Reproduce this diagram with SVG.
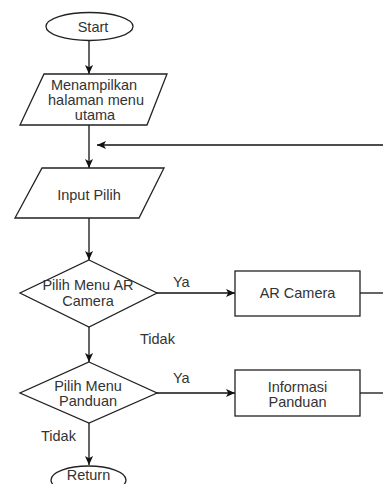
<svg xmlns="http://www.w3.org/2000/svg" width="383" height="484" viewBox="0 0 383 484">
<defs>
<marker id="arr" viewBox="0 0 10 10" refX="10" refY="5" markerWidth="9" markerHeight="9" markerUnits="userSpaceOnUse" orient="auto">
<path d="M0,0.5 L10,5 L0,9.5 L2.5,5 z" fill="#111"/>
</marker>
<style>
.s{fill:#fff;stroke:#222;stroke-width:1.3}
.c{fill:none;stroke:#111;stroke-width:1.3}
.a{marker-end:url(#arr)}
text{font-family:"Liberation Sans",Arial,sans-serif;font-size:14.5px;fill:#333}
.m{text-anchor:middle}
</style>
</defs>
<rect width="383" height="484" fill="#fff"/>
<g id="connectors">
<path class="c a" d="M89 41 V74"/>
<path class="c a" d="M89 125 V168"/>
<path class="c a" d="M383 145 H97"/>
<path class="c a" d="M89 218 V260"/>
<path class="c a" d="M156 293 H235"/>
<path class="c" d="M360 293 H383"/>
<path class="c a" d="M89 327 V362"/>
<path class="c a" d="M156 393 H235"/>
<path class="c" d="M360 393 H383"/>
<path class="c a" d="M89 423 V465"/>
<text x="173" y="287">Ya</text>
<text x="140" y="344">Tidak</text>
<text x="173" y="383">Ya</text>
<text x="41" y="441">Tidak</text>
</g>
<g id="start">
<ellipse class="s" cx="89.5" cy="26.5" rx="43.5" ry="14"/>
<text class="m" x="93" y="32">Start</text>
</g>
<g id="menu-utama">
<polygon class="s" points="44,74 167,74 147,125 20,125"/>
<text class="m" x="94" y="90">Menampilkan</text>
<text class="m" x="96" y="105">halaman menu</text>
<text class="m" x="95" y="120">utama</text>
</g>
<g id="input-pilih">
<polygon class="s" points="42,168 164,168 139,218 15,218"/>
<text class="m" x="89" y="200">Input Pilih</text>
</g>
<g id="pilih-ar">
<polygon class="s" points="89,260 157,293 89,327 20,293"/>
<text class="m" x="88" y="290">Pilih Menu AR</text>
<text class="m" x="88" y="306">Camera</text>
</g>
<g id="ar-camera">
<rect class="s" x="235" y="271" width="125" height="45"/>
<text class="m" x="297.5" y="298">AR Camera</text>
</g>
<g id="pilih-panduan">
<polygon class="s" points="89,362 157,393 89,423 20,393"/>
<text class="m" x="88" y="391">Pilih Menu</text>
<text class="m" x="88" y="406">Panduan</text>
</g>
<g id="informasi-panduan">
<rect class="s" x="235" y="370" width="125" height="46"/>
<text class="m" x="297.5" y="392">Informasi</text>
<text class="m" x="297.5" y="407">Panduan</text>
</g>
<g id="return">
<ellipse class="s" cx="88.5" cy="480" rx="37.5" ry="14"/>
<text class="m" x="88.5" y="480" font-size="13.5px">Return</text>
</g>
</svg>
